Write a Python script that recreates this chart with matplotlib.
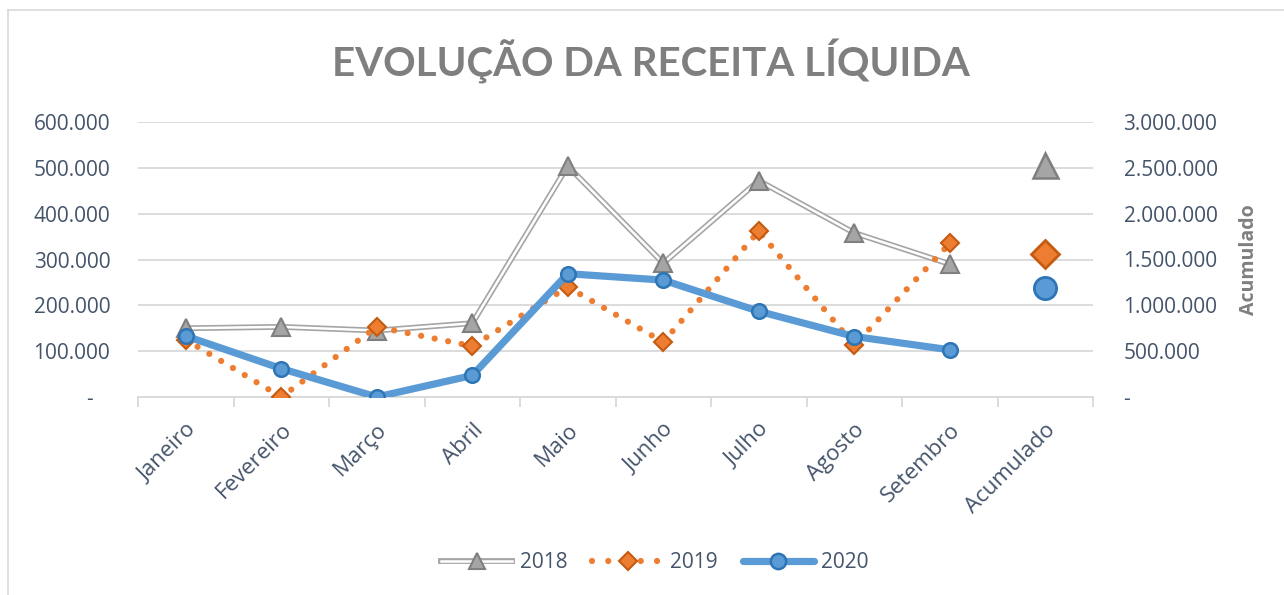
import matplotlib
matplotlib.use("Agg")
import matplotlib.pyplot as plt
from matplotlib.lines import Line2D
from matplotlib.legend_handler import HandlerTuple
from matplotlib.ticker import FuncFormatter, MultipleLocator

# ---------------- data ----------------
meses = ["Janeiro", "Fevereiro", "Março", "Abril", "Maio", "Junho", "Julho",
         "Agosto", "Setembro"]
categorias = meses + ["Acumulado"]
v2018 = [150000, 153000, 145000, 161000, 504000, 292000, 472000, 358000, 290000]
v2019 = [125000, 0, 153000, 111000, 240000, 120000, 362000, 113000, 335000]
v2020 = [133000, 62000, 0, 47000, 269000, 255000, 187000, 132000, 103000]
acum2018 = 2528000
acum2019 = 1562000
acum2020 = 1189000
series = ["2018", "2019", "2020"]
titulo = "EVOLUÇÃO DA RECEITA LÍQUIDA"

# ---------------- style ----------------
FONT = ["Open Sans", "DejaVu Sans"]
plt.rcParams["font.family"] = FONT
TICK_C = "#44546a"
GRID_C = "#d9d9d9"
GRAY, GRAY_E = "#a5a5a5", "#7f7f7f"
ORANGE, ORANGE_E = "#ed7d31", "#c55a11"
BLUE, BLUE_E = "#5b9bd5", "#2e75b6"

W, H = 1284, 595
fig = plt.figure(figsize=(W / 100, H / 100), dpi=100)
ax = fig.add_axes([138 / W, 1 - 397 / H, (1093 - 138) / W, (397 - 122) / H])
ax2 = ax.twinx()

# chart-area border (left/top visible)
fig.add_artist(Line2D([8 / W, 8 / W], [0, 1 - 10 / H], color=GRID_C, lw=1.2,
                      transform=fig.transFigure))
fig.add_artist(Line2D([8 / W, 1], [1 - 10 / H, 1 - 10 / H], color=GRID_C, lw=1.2,
                      transform=fig.transFigure))

x = list(range(len(meses)))
xa = len(meses)

# 2018: double gray line
ax.plot(x, v2018, color=GRAY, lw=4.2, solid_joinstyle="miter", zorder=3)
ax.plot(x, v2018, color="white", lw=1.8, solid_joinstyle="miter", zorder=3.1)
ax.plot(x, v2018, ls="none", marker="^", ms=13, mfc=GRAY, mec=GRAY_E, mew=1.5,
        zorder=3.2)
# 2019: dotted orange
ax.plot(x, v2019, color=ORANGE, lw=4.5, ls=(0, (0.001, 2.2)),
        dash_capstyle="round", zorder=4)
ax.plot(x, v2019, ls="none", marker="D", ms=9, mfc=ORANGE, mec=ORANGE_E, mew=1.5,
        zorder=4.2)
# 2020: solid blue
ax.plot(x, v2020, color=BLUE, lw=5.2, solid_capstyle="round", zorder=5)
ax.plot(x, v2020, ls="none", marker="o", ms=10.5, mfc=BLUE, mec=BLUE_E, mew=1.8,
        zorder=5.2)

# accumulated (secondary axis)
ax2.plot([xa], [acum2018], ls="none", marker="^", ms=18, mfc=GRAY, mec=GRAY_E, mew=1.8)
ax2.plot([xa], [acum2019], ls="none", marker="D", ms=14, mfc=ORANGE, mec=ORANGE_E, mew=2)
ax2.plot([xa], [acum2020], ls="none", marker="o", ms=16, mfc=BLUE, mec=BLUE_E, mew=2)

# axes
ax.set_xlim(-0.5, len(categorias) - 0.5)
ax.set_ylim(0, 600000)
ax2.set_ylim(0, 3000000)
ax.yaxis.set_major_locator(MultipleLocator(100000))
ax2.yaxis.set_major_locator(MultipleLocator(500000))


def fmt_left(v, pos):
    if v == 0:
        return "-   "
    return f"{int(v):,}".replace(",", ".")


def fmt_right(v, pos):
    if v == 0:
        return "-"
    return f"{int(v):,}".replace(",", ".")


ax.yaxis.set_major_formatter(FuncFormatter(fmt_left))
ax2.yaxis.set_major_formatter(FuncFormatter(fmt_right))

ax.grid(axis="y", color=GRID_C, lw=1.3, zorder=0)
ax.set_axisbelow(True)
for a in (ax, ax2):
    for s in a.spines.values():
        s.set_visible(False)
ax.spines["bottom"].set_visible(True)
ax.spines["bottom"].set_color(GRID_C)
ax.spines["bottom"].set_linewidth(1.3)

ax.tick_params(axis="y", length=0, pad=20, labelsize=15, labelcolor=TICK_C)
ax2.tick_params(axis="y", length=0, pad=22, labelsize=15, labelcolor=TICK_C)

# category ticks between categories, labels centred on categories
ax.set_xticks([i - 0.5 for i in range(len(categorias) + 1)])
ax.tick_params(axis="x", which="major", length=7, color=GRID_C, width=1.3,
               labelbottom=False)
ax.set_xticks(range(len(categorias)), minor=True)
ax.set_xticklabels(categorias, minor=True, rotation=45, ha="right", va="top",
                   rotation_mode="anchor")
ax.tick_params(axis="x", which="minor", length=0, pad=16, labelsize=16,
               labelcolor=TICK_C)

ax2.set_ylabel("Acumulado", color="#7f7f7f", fontsize=14, fontweight="bold",
               labelpad=15)

fig.text(651 / W, 1 - 61 / H, titulo, ha="center", va="center", fontsize=29,
         fontweight="bold", color="#7f7f7f", family=["Lato", "DejaVu Sans"])

# legend
h18 = (Line2D([], [], color=GRAY, lw=4.2), Line2D([], [], color="white", lw=1.8),
       Line2D([], [], ls="none", marker="^", ms=11, mfc=GRAY, mec=GRAY_E, mew=1.5))
h19 = (Line2D([], [], color=ORANGE, lw=4.5, ls=(0, (0.001, 2.6)),
              dash_capstyle="round"),
       Line2D([], [], ls="none", marker="D", ms=9, mfc=ORANGE, mec=ORANGE_E, mew=1.5))
h20 = (Line2D([], [], color=BLUE, lw=5.2, solid_capstyle="round"),
       Line2D([], [], ls="none", marker="o", ms=11, mfc=BLUE, mec=BLUE_E, mew=1.8))
leg = fig.legend([h18, h19, h20], series, loc="center", ncol=3,
                 bbox_to_anchor=(655 / W, 1 - 563 / H), frameon=False,
                 fontsize=15, handlelength=3.4, handletextpad=0.35,
                 columnspacing=1.2,
                 handler_map={tuple: HandlerTuple(ndivide=1)})
for t in leg.get_texts():
    t.set_color(TICK_C)

fig.savefig("out.png", dpi=100, facecolor="white")
